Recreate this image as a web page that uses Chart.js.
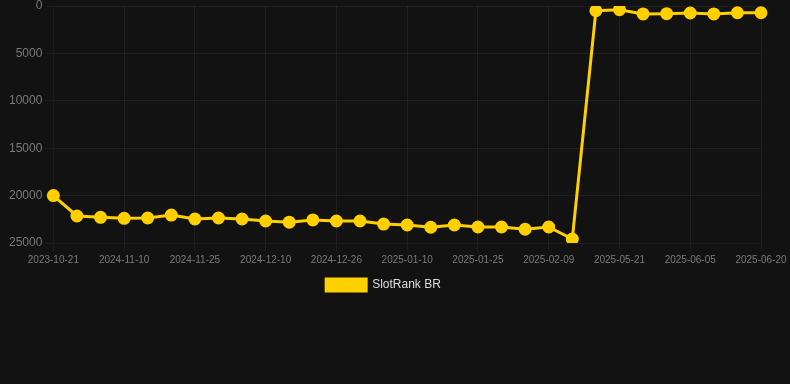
<!DOCTYPE html>
<html>
<head>
<meta charset="utf-8">
<script src="https://cdn.jsdelivr.net/npm/chart.js@4.4.1/dist/chart.umd.min.js"></script>
<style>
  html, body { margin: 0; padding: 0; background: #121212; overflow: hidden; }
  #wrap { width: 790px; height: 304px; margin-top: -3px; }
</style>
</head>
<body>
<div id="wrap"><canvas id="rankChart"></canvas></div>
<script>
const dates = [
    '2023-10-21', '2024-10-31', '2024-11-05', '2024-11-10', '2024-11-15', '2024-11-20',
    '2024-11-25', '2024-11-30', '2024-12-05', '2024-12-10', '2024-12-16', '2024-12-21',
    '2024-12-26', '2024-12-31', '2025-01-05', '2025-01-10', '2025-01-15', '2025-01-20',
    '2025-01-25', '2025-01-30', '2025-02-04', '2025-02-09', '2025-02-14', '2025-05-16',
    '2025-05-21', '2025-05-26', '2025-05-31', '2025-06-05', '2025-06-10', '2025-06-15',
    '2025-06-20'
];
const ranks = [
    20000, 22150, 22290, 22400, 22360, 22050, 22470, 22360, 22470, 22680,
    22800, 22570, 22680, 22680, 23000, 23100, 23340, 23100, 23310, 23310,
    23550, 23310, 24580, 500, 390, 840, 810, 740, 840, 710,
    710
];
const seriesName = 'SlotRank BR';
const yTicks = [0, 5000, 10000, 15000, 20000, 25000];

const ctx = document.getElementById('rankChart').getContext('2d');
new Chart(ctx, {
    type: 'line',
    data: {
        labels: dates,
        datasets: [{
            label: seriesName,
            data: ranks,
            borderColor: '#FFD000',
            backgroundColor: '#FFD000',
            borderWidth: 3,
            tension: 0,
            fill: false,
            pointBackgroundColor: '#FFD000',
            pointBorderColor: '#FFD000',
            pointRadius: 5,
            pointHoverRadius: 6
        }]
    },
    options: {
        responsive: true,
        maintainAspectRatio: false,
        animation: false,
        layout: { padding: { left: 6, right: 29, top: 0, bottom: 0 } },
        plugins: {
            legend: {
                position: 'bottom',
                labels: { color: '#dddddd', font: { size: 12 }, boxWidth: 40, boxHeight: 12 }
            },
            tooltip: { enabled: false }
        },
        scales: {
            x: {
                grid: { color: 'rgba(255,255,255,0.06)' },
                ticks: { color: '#7a7a7a', font: { size: 10 }, maxRotation: 0 }
            },
            y: {
                reverse: true,
                min: yTicks[0],
                max: yTicks[yTicks.length - 1],
                grid: { color: 'rgba(255,255,255,0.06)' },
                ticks: {
                    color: '#7a7a7a',
                    font: { size: 12, lineHeight: 0.55 },
                    stepSize: yTicks[1] - yTicks[0],
                    callback: v => String(v)
                }
            }
        }
    }
});
</script>
</body>
</html>
